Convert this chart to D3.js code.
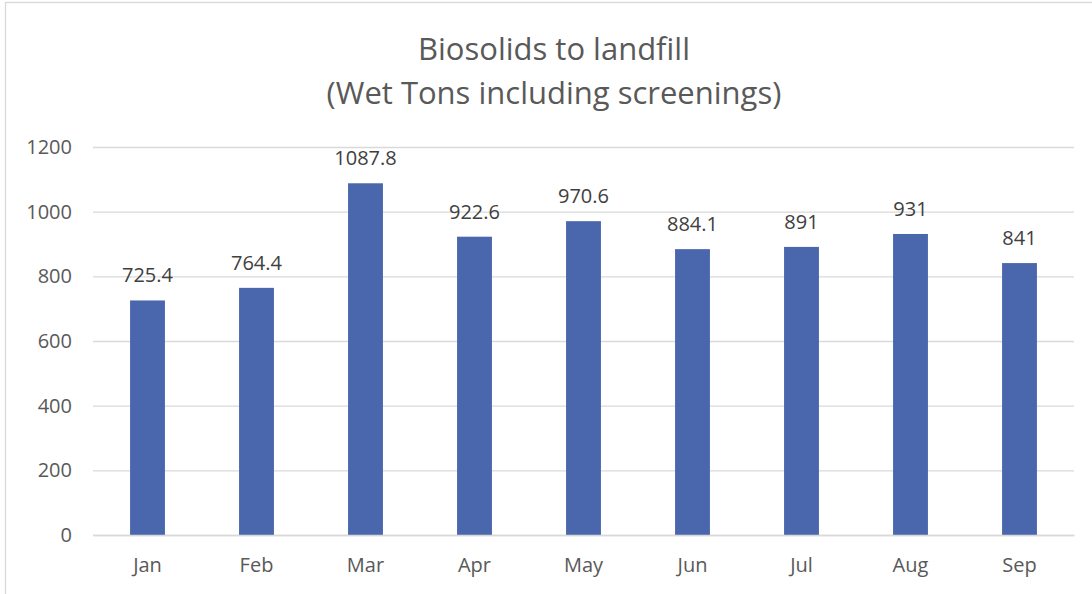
<!DOCTYPE html>
<meta charset="utf-8">
<style>
body { margin: 0; background: #fff; }
text { font-family: "Open Sans", "Liberation Sans", sans-serif; }
.bar { fill: #4a66ad; }
</style>
<body>
<script src="https://d3js.org/d3.v7.min.js"></script>
<script>

var months = ["Jan", "Feb", "Mar", "Apr", "May", "Jun", "Jul", "Aug", "Sep"];
var tons = [725.4, 764.4, 1087.8, 922.6, 970.6, 884.1, 891, 931, 841];
var yTicks = [0, 200, 400, 600, 800, 1000, 1200];
var titleLines = ["Biosolids to landfill", "(Wet Tons including screenings)"];

var W = 1092, H = 594;
var margin = {top: 147, right: 18, bottom: 59, left: 93},
    width = W - margin.left - margin.right,
    height = H - margin.top - margin.bottom;

var svg = d3.select("body").append("svg")
    .attr("width", W)
    .attr("height", H);

// chart border
svg.append("rect")
    .attr("x", 5.5).attr("y", 2.5)
    .attr("width", W + 10).attr("height", H + 10)
    .attr("fill", "none")
    .attr("stroke", "#d9d9d9")
    .attr("stroke-width", 1.3);

// title
svg.append("g").selectAll("text")
    .data(titleLines)
  .enter().append("text")
    .attr("x", 554)
    .attr("y", function(d, i) { return 60 + i * 44; })
    .attr("text-anchor", "middle")
    .attr("font-size", "31px")
    .attr("fill", "#595959")
    .text(function(d) { return d; });

var g = svg.append("g")
    .attr("transform", "translate(" + margin.left + "," + margin.top + ")");

var x = d3.scaleBand()
    .domain(months)
    .range([0, width])
    .paddingInner(0.68)
    .paddingOuter(0.34);

var y = d3.scaleLinear()
    .domain([0, 1200])
    .range([height, 0]);

// gridlines + y labels
var yAxis = g.append("g")
    .call(d3.axisLeft(y).tickValues(yTicks).tickFormat(d3.format("d")).tickSize(-width).tickPadding(21));
yAxis.select(".domain").remove();
yAxis.selectAll(".tick line").attr("stroke", "#d9d9d9").attr("stroke-width", 1.3);
yAxis.selectAll(".tick text")
    .attr("font-size", "20px")
    .attr("fill", "#595959")
    .style("font-family", "'Open Sans', sans-serif");

// bars
g.selectAll(".bar")
    .data(tons)
  .enter().append("rect")
    .attr("class", "bar")
    .attr("x", function(d, i) { return x(months[i]); })
    .attr("width", x.bandwidth())
    .attr("y", function(d) { return y(d); })
    .attr("height", function(d) { return height - y(d); });

// data labels
g.selectAll(".lbl")
    .data(tons)
  .enter().append("text")
    .attr("class", "lbl")
    .attr("x", function(d, i) { return x(months[i]) + x.bandwidth() / 2; })
    .attr("y", function(d) { return y(d) - 18; })
    .attr("text-anchor", "middle")
    .attr("font-size", "20px")
    .attr("fill", "#404040")
    .text(function(d) { return d; });

// x axis
var xAxis = g.append("g")
    .attr("transform", "translate(0," + height + ")")
    .call(d3.axisBottom(x).tickSize(0).tickPadding(23));
xAxis.select(".domain").attr("stroke", "#d9d9d9").attr("stroke-width", 1.3);
xAxis.selectAll(".tick text")
    .attr("font-size", "20px")
    .attr("fill", "#595959")
    .style("font-family", "'Open Sans', sans-serif");

</script>
</body>
